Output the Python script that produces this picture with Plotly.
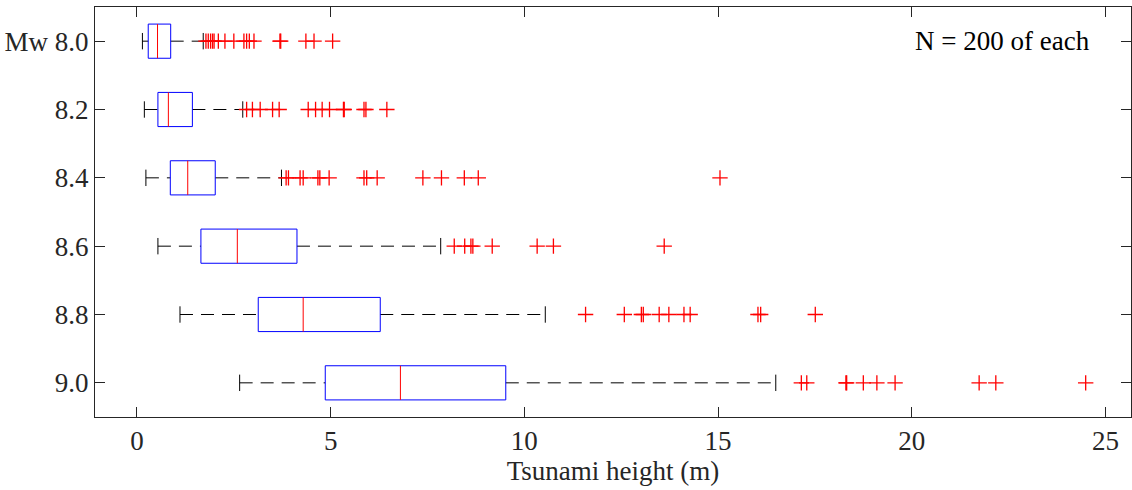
import plotly.graph_objects as go

# ---- data ----
categories = ["Mw 8.0", "8.2", "8.4", "8.6", "8.8", "9.0"]
lower_whisker = [0.14, 0.19, 0.23, 0.54, 1.11, 2.65]
q1 = [0.29, 0.54, 0.86, 1.65, 3.13, 4.86]
median = [0.53, 0.81, 1.31, 2.59, 4.29, 6.80]
q3 = [0.87, 1.43, 2.02, 4.13, 6.28, 9.52]
upper_whisker = [1.71, 2.73, 3.73, 7.84, 10.54, 16.49]
outliers = [
    [1.78, 1.84, 1.90, 1.95, 1.99, 2.10, 2.27, 2.50, 2.76, 2.83, 2.90, 3.02, 3.69, 3.71, 4.36, 4.57, 5.05],
    [2.83, 2.98, 3.18, 3.50, 3.67, 4.42, 4.61, 4.78, 4.97, 5.33, 5.35, 5.86, 5.91, 6.45],
    [3.85, 3.91, 4.21, 4.29, 4.67, 4.72, 4.96, 5.86, 5.93, 6.20, 7.38, 7.86, 8.45, 8.81, 15.05],
    [8.19, 8.46, 8.62, 8.67, 9.17, 10.33, 10.75, 13.61],
    [11.58, 12.58, 13.02, 13.07, 13.48, 13.73, 14.12, 14.28, 16.03, 16.10, 17.51],
    [17.15, 17.29, 18.30, 18.32, 18.75, 19.10, 19.57, 21.74, 22.17, 24.49],
]
x_ticks = [0, 5, 10, 15, 20, 25]
annotation_text = "N = 200 of each"
x_title = "Tsunami height (m)"

FONT = "Liberation Serif"
FS = 27
AXC = "#262626"
BOX_HALF = 0.25
CAP_HALF = 0.12

positions = list(range(1, len(categories) + 1))

fig = go.Figure()

# whiskers (dashed)
wx, wy = [], []
for p, lo, a, b, hi in zip(positions, lower_whisker, q1, q3, upper_whisker):
    wx += [lo, a, None, b, hi, None]
    wy += [p, p, None, p, p, None]
fig.add_trace(go.Scatter(x=wx, y=wy, mode="lines", line=dict(color="black", width=1, dash="13px,8px"),
                         hoverinfo="skip", showlegend=False))

# whisker caps
cx, cy = [], []
for p, lo, hi in zip(positions, lower_whisker, upper_whisker):
    cx += [lo, lo, None, hi, hi, None]
    cy += [p - CAP_HALF, p + CAP_HALF, None, p - CAP_HALF, p + CAP_HALF, None]
fig.add_trace(go.Scatter(x=cx, y=cy, mode="lines", line=dict(color="black", width=1),
                         hoverinfo="skip", showlegend=False))

# boxes
bx, by = [], []
for p, a, b in zip(positions, q1, q3):
    bx += [a, b, b, a, a, None]
    by += [p - BOX_HALF, p - BOX_HALF, p + BOX_HALF, p + BOX_HALF, p - BOX_HALF, None]
fig.add_trace(go.Scatter(x=bx, y=by, mode="lines", line=dict(color="#0000FF", width=1),
                         hoverinfo="skip", showlegend=False))

# medians
mx, my = [], []
for p, m in zip(positions, median):
    mx += [m, m, None]
    my += [p - BOX_HALF, p + BOX_HALF, None]
fig.add_trace(go.Scatter(x=mx, y=my, mode="lines", line=dict(color="#FF0000", width=1),
                         hoverinfo="skip", showlegend=False))

# outliers
ox, oy = [], []
for p, outs in zip(positions, outliers):
    ox += outs
    oy += [p] * len(outs)
fig.add_trace(go.Scatter(x=ox, y=oy, mode="markers",
                         marker=dict(symbol="cross-thin", size=11, line=dict(color="#FF0000", width=1.3)),
                         showlegend=False))

fig.add_annotation(text=annotation_text, xref="paper", yref="y", x=0.9625, y=1,
                   xanchor="right", yanchor="middle", showarrow=False,
                   font=dict(family=FONT, size=FS, color="black"))

fig.update_layout(
    width=1132, height=490,
    margin=dict(l=95, r=1, t=7, b=73),
    plot_bgcolor="white", paper_bgcolor="white",
    font=dict(family=FONT, size=FS, color=AXC),
    xaxis=dict(range=[-1.084, 25.66], tickvals=x_ticks, ticks="inside", ticklen=10, tickcolor=AXC,
               showline=True, linecolor=AXC, linewidth=1, mirror="allticks", showgrid=False,
               zeroline=False, title=dict(text=x_title, font=dict(family=FONT, size=FS, color=AXC), standoff=0),
               tickfont=dict(family=FONT, size=FS, color=AXC)),
    yaxis=dict(range=[6.5, 0.5], tickvals=positions, ticktext=categories, ticks="inside", ticklen=10,
               tickcolor=AXC, showline=True, linecolor=AXC, linewidth=1, mirror="allticks",
               showgrid=False, zeroline=False, tickfont=dict(family=FONT, size=FS, color=AXC)),
)

fig.write_html("out.html")
